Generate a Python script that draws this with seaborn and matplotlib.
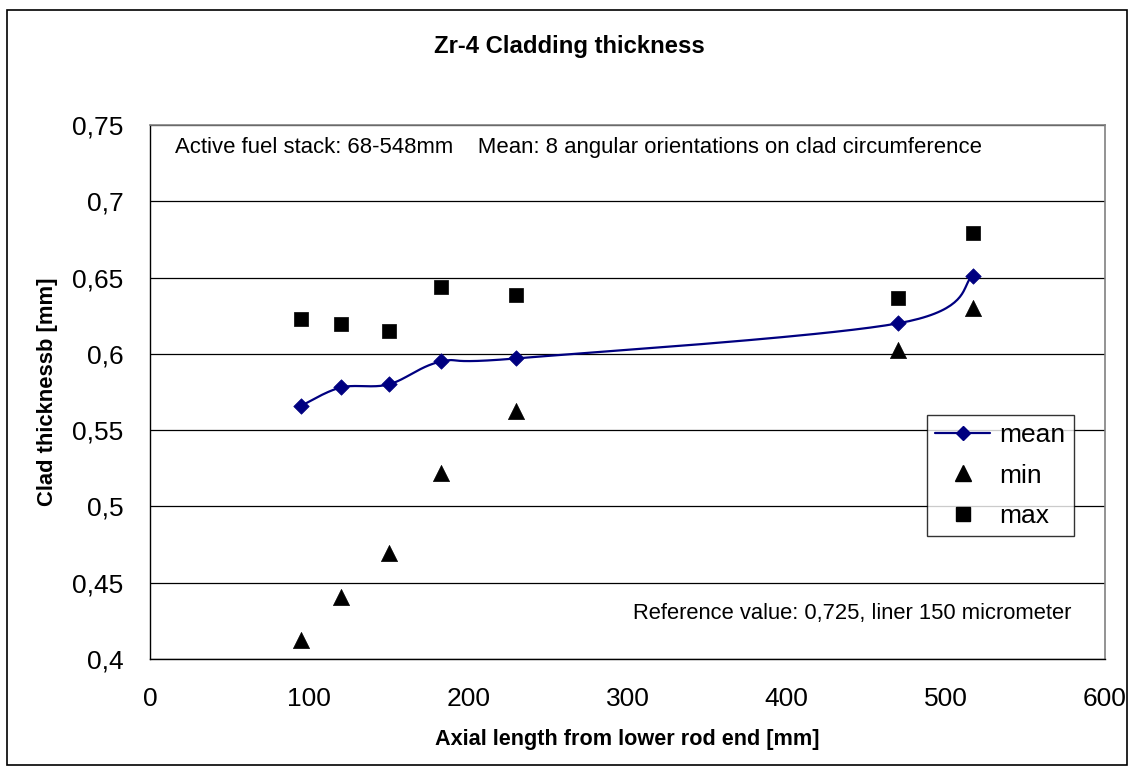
import numpy as np
import pandas as pd
import matplotlib
matplotlib.use("Agg")
import matplotlib.pyplot as plt
from matplotlib.lines import Line2D
from matplotlib.patches import Rectangle
import seaborn as sns

# ---- data ----
positions = [95, 120, 150, 183, 230, 470, 517]
mean_vals = [0.566, 0.578, 0.580, 0.595, 0.597, 0.620, 0.651]
min_vals = [0.4125, 0.4408, 0.4696, 0.5222, 0.5627, 0.6026, 0.6303]
max_vals = [0.6226, 0.6198, 0.6147, 0.6438, 0.6386, 0.6368, 0.679]
y_ticks = [0.4, 0.45, 0.5, 0.55, 0.6, 0.65, 0.7, 0.75]
y_tick_labels = ["0,4", "0,45", "0,5", "0,55", "0,6", "0,65", "0,7", "0,75"]
x_ticks = [0, 100, 200, 300, 400, 500, 600]

sns.set_theme(style="white")
plt.rcParams['font.family'] = ['Liberation Sans', 'DejaVu Sans']
plt.rcParams['text.color'] = 'black'
plt.rcParams['axes.labelcolor'] = 'black'
plt.rcParams['xtick.color'] = 'black'
plt.rcParams['ytick.color'] = 'black'

# Excel-like smoothed line (uniform Catmull-Rom / Bezier)
def smooth(xs, ys, n=40):
    P = np.column_stack([xs, ys]).astype(float)
    P = np.vstack([P[0], P, P[-1]])
    out = []
    for i in range(1, len(P) - 2):
        p0, p1, p2, p3 = P[i - 1], P[i], P[i + 1], P[i + 2]
        c1 = p1 + (p2 - p0) / 6.0
        c2 = p2 - (p3 - p1) / 6.0
        t = np.linspace(0, 1, n)[:, None]
        seg = ((1 - t) ** 3) * p1 + 3 * ((1 - t) ** 2) * t * c1 + 3 * (1 - t) * t ** 2 * c2 + t ** 3 * p2
        out.append(seg if i == 1 else seg[1:])
    return np.vstack(out)

curve = smooth(positions, mean_vals)
curve_df = pd.DataFrame({"x": curve[:, 0], "y": curve[:, 1]})
df = pd.DataFrame({"pos": positions, "mean": mean_vals, "min": min_vals, "max": max_vals})

fig = plt.figure(figsize=(11.3, 7.67), dpi=100)
ax = fig.add_axes([150 / 1130, 1 - 659 / 767, 955 / 1130, 534 / 767])

navy = "#000080"
sns.lineplot(data=curve_df, x="x", y="y", sort=False, estimator=None, ax=ax,
             color=navy, linewidth=1.6, zorder=3)
sns.scatterplot(data=df, x="pos", y="mean", marker="D", s=62, color=navy,
                edgecolor=navy, linewidth=0.5, ax=ax, zorder=4)
sns.scatterplot(data=df, x="pos", y="min", marker="^", s=135, color="black",
                edgecolor="black", linewidth=0.5, ax=ax, zorder=4)
sns.scatterplot(data=df, x="pos", y="max", marker="s", s=112, color="black",
                edgecolor="black", linewidth=0.5, ax=ax, zorder=4)

ax.set_xlim(0, 600)
ax.set_ylim(0.4, 0.75)
ax.set_xticks(x_ticks)
ax.set_xticklabels([str(v) for v in x_ticks])
ax.set_yticks(y_ticks)
ax.set_yticklabels(y_tick_labels)
ax.tick_params(axis="x", direction="out", length=8, width=1, pad=12, colors="black", labelsize=19)
ax.tick_params(axis="y", direction="out", length=8, width=1, pad=11, colors="black", labelsize=19)
ax.yaxis.grid(True, color="#000000", linewidth=0.9)
ax.xaxis.grid(False)
ax.set_axisbelow(True)
for side in ["top", "right"]:
    ax.spines[side].set_color("#808080")
    ax.spines[side].set_linewidth(1.2)
for side in ["left", "bottom"]:
    ax.spines[side].set_color("#000000")
    ax.spines[side].set_linewidth(1.0)

ax.set_xlabel("Axial length from lower rod end [mm]", fontsize=15.6, fontweight="bold", labelpad=13)
ax.set_ylabel("Clad thicknessb [mm]", fontsize=15.8, fontweight="bold", labelpad=10)

fig.text(569 / 1130, 1 - 47 / 767, "Zr-4 Cladding thickness", ha="center", va="center",
         fontsize=17.2, fontweight="bold")
fig.text(175 / 1130, 1 - 148 / 767,
         "Active fuel stack: 68-548mm    Mean: 8 angular orientations on clad circumference",
         ha="left", va="center", fontsize=15.9)
fig.text(1071 / 1130, 1 - 614 / 767, "Reference value: 0,725, liner 150 micrometer",
         ha="right", va="center", fontsize=15.8)

handles = [
    Line2D([0], [0], color=navy, linewidth=1.6, marker="D", markersize=7.5, markerfacecolor=navy),
    Line2D([0], [0], color="black", linestyle="none", marker="^", markersize=11),
    Line2D([0], [0], color="black", linestyle="none", marker="s", markersize=10),
]
leg = ax.legend(handles, ["mean", "min", "max"], loc="upper left",
                bbox_to_anchor=((927 - 150) / 955, (659 - 415) / 534),
                fontsize=19, frameon=True, fancybox=False, edgecolor="black",
                borderpad=0.3, labelspacing=0.63, handlelength=2.1, handletextpad=0.35,
                borderaxespad=0)
leg.get_frame().set_linewidth(1.0)

fig.patches.append(Rectangle((7 / 1130, 1 - 765 / 767), 1120 / 1130, 755 / 767,
                             transform=fig.transFigure, fill=False, edgecolor="black",
                             linewidth=1.2))

fig.savefig("out.png", dpi=100, facecolor="white")
